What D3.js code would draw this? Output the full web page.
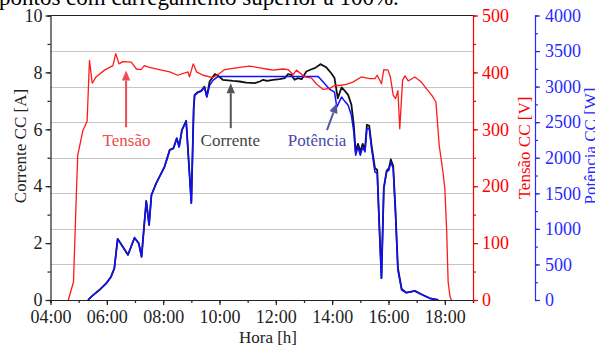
<!DOCTYPE html>
<html>
<head>
<meta charset="utf-8">
<script src="https://cdn.jsdelivr.net/npm/d3@7/dist/d3.min.js"></script>
<style>
  html, body { margin: 0; padding: 0; background: #fff; overflow: hidden; }
  svg { display: block; font-family: "Times New Roman", Times, "Liberation Serif", "Nimbus Roman", serif; }
  svg text { font-family: "Times New Roman", Times, "Liberation Serif", "Nimbus Roman", serif; }
</style>
</head>
<body>
<svg id="chart" width="595" height="348"></svg>
<script>
// ---- data -------------------------------------------------------------
const hourTicks = ["04:00", "06:00", "08:00", "10:00", "12:00", "14:00", "16:00", "18:00"];
const currentTicks = [0, 2, 4, 6, 8, 10];
const voltageTicks = [0, 100, 200, 300, 400, 500];
const powerTicks = [0, 500, 1000, 1500, 2000, 2500, 3000, 3500, 4000];

// Tensão CC [V]
const voltage = [
  ["04:38", 0], ["04:49", 32], ["04:55", 184], ["04:58", 254], ["05:09", 298], ["05:18", 314],
  ["05:23", 421], ["05:29", 381], ["05:37", 392], ["05:55", 404], ["06:13", 412], ["06:19", 433],
  ["06:26", 415], ["06:34", 419], ["06:52", 418], ["07:03", 406], ["07:13", 405], ["07:20", 412],
  ["07:31", 409], ["07:52", 405], ["08:14", 401], ["08:31", 395], ["08:53", 401], ["08:56", 392],
  ["09:04", 415], ["09:11", 401], ["09:25", 395], ["09:46", 391], ["10:00", 398], ["10:11", 405],
  ["10:43", 409], ["11:04", 411], ["11:26", 408], ["11:40", 406], ["11:54", 404], ["12:15", 406],
  ["12:26", 405], ["12:37", 396], ["12:44", 404], ["13:02", 392], ["13:16", 390], ["13:26", 380],
  ["13:41", 370], ["13:55", 372], ["14:05", 377], ["14:16", 377], ["14:30", 379], ["14:44", 383],
  ["15:02", 392], ["15:20", 389], ["15:31", 389], ["15:36", 395], ["15:45", 380], ["15:50", 405],
  ["15:59", 404], ["16:04", 392], ["16:10", 360], ["16:15", 354], ["16:20", 368], ["16:24", 301],
  ["16:30", 386], ["16:35", 394], ["16:42", 385], ["16:56", 392], ["17:10", 383], ["17:21", 371],
  ["17:32", 360], ["17:41", 348], ["17:48", 272], ["17:56", 225], ["18:00", 196], ["18:04", 120],
  ["18:07", 32], ["18:11", 6], ["18:14", 0]
];

// Corrente CC [A]
const current = [
  ["05:20", 0], ["05:27", 0.12], ["05:44", 0.35], ["05:59", 0.59], ["06:09", 0.82], ["06:16", 1.11],
  ["06:23", 2.15], ["06:34", 1.87], ["06:45", 1.58], ["06:59", 2.19], ["07:08", 1.99], ["07:14", 1.52],
  ["07:19", 2.52], ["07:24", 3.48], ["07:30", 2.64], ["07:35", 3.69], ["07:45", 4.10], ["08:03", 4.69],
  ["08:14", 5.28], ["08:22", 5.34], ["08:29", 5.69], ["08:34", 5.39], ["08:40", 5.98], ["08:49", 6.30],
  ["09:00", 3.41], ["09:05", 6.74], ["09:07", 7.21], ["09:14", 7.31], ["09:21", 7.35], ["09:28", 7.50],
  ["09:33", 7.15], ["09:39", 7.68], ["09:50", 7.94], ["09:57", 7.88], ["10:07", 7.74], ["10:29", 7.70],
  ["10:43", 7.68], ["10:57", 7.64], ["11:15", 7.62], ["11:26", 7.68], ["11:33", 7.74], ["11:41", 7.70],
  ["11:54", 7.74], ["12:08", 7.76], ["12:19", 7.80], ["12:26", 7.94], ["12:33", 7.91], ["12:40", 7.74],
  ["12:47", 7.80], ["12:55", 7.76], ["13:05", 8.03], ["13:16", 8.11], ["13:23", 8.15], ["13:35", 8.29],
  ["13:48", 8.17], ["13:58", 7.97], ["14:05", 7.80], ["14:12", 7.09], ["14:20", 7.47], ["14:27", 7.35],
  ["14:34", 7.21], ["14:41", 6.86], ["14:46", 6.16], ["14:50", 5.21], ["14:55", 5.49], ["15:00", 5.21],
  ["15:05", 5.49], ["15:10", 5.31], ["15:14", 6.16], ["15:19", 6.12], ["15:24", 5.42], ["15:31", 4.64],
  ["15:36", 4.57], ["15:40", 2.81], ["15:45", 0.77], ["15:50", 3.94], ["15:56", 4.54], ["16:01", 4.64],
  ["16:05", 4.94], ["16:10", 4.71], ["16:15", 3.10], ["16:20", 1.13], ["16:28", 0.39], ["16:38", 0.26],
  ["16:56", 0.32], ["17:10", 0.20], ["17:28", 0.06], ["17:46", 0]
];

// Potência CC [W]
const power = [
  ["05:20", 0], ["05:27", 46], ["05:44", 140], ["05:59", 234], ["06:09", 327], ["06:16", 445],
  ["06:23", 856], ["06:34", 748], ["06:45", 641], ["06:59", 874], ["07:08", 796], ["07:14", 608],
  ["07:19", 1006], ["07:24", 1390], ["07:30", 1053], ["07:35", 1474], ["07:45", 1638], ["08:03", 1871],
  ["08:14", 2105], ["08:22", 2129], ["08:29", 2269], ["08:34", 2152], ["08:40", 2386], ["08:49", 2512],
  ["09:00", 1361], ["09:05", 2690], ["09:07", 2877], ["09:14", 2915], ["09:21", 2933], ["09:28", 2994],
  ["09:33", 2853], ["09:39", 3018], ["09:46", 3088], ["09:57", 3144], ["13:30", 3144], ["13:41", 3064],
  ["13:55", 2961], ["14:05", 2923], ["14:10", 2713], ["14:20", 2853], ["14:27", 2793], ["14:34", 2737],
  ["14:41", 2597], ["14:46", 2362], ["14:50", 2035], ["14:55", 2152], ["15:00", 2035], ["15:05", 2152],
  ["15:10", 2081], ["15:14", 2410], ["15:19", 2410], ["15:24", 2129], ["15:31", 1801], ["15:36", 1778],
  ["15:40", 1099], ["15:45", 305], ["15:50", 1568], ["15:56", 1801], ["16:01", 1825], ["16:05", 1941],
  ["16:10", 1848], ["16:15", 1193], ["16:20", 421], ["16:28", 140], ["16:38", 102], ["16:56", 126],
  ["17:10", 80], ["17:28", 24], ["17:46", 0]
];

// Callouts: label, text anchor [time, A], arrow tail and tip [time, A]
const callouts = [
  { label: "Tensão",   at: ["06:42", 5.42], tail: ["06:41", 6.07], tip: ["06:41", 8.07], kind: "v" },
  { label: "Corrente", at: ["10:23", 5.42], tail: ["10:24", 6.04], tip: ["10:24", 7.62], kind: "i" },
  { label: "Potência", at: ["13:28", 5.42], tail: ["13:49", 5.97], tip: ["14:10", 6.92], kind: "p" }
];

// ---- layout -----------------------------------------------------------
const svg = d3.select("#chart");
const L = 50.5, R = 473, T = 15.5, B = 300;
const parse = d3.timeParse("%H:%M");

const COL = {
  v: "#ff1a1a", i: "#111111", p: "#1010ff",
  vAxis: "#ff0000", pAxis: "#2a2aff",
  vNote: "#f04a4a", iNote: "#444444", pNote: "#4a4aa8",
  vArrow: "#f04a55", iArrow: "#555555", pArrow: "#5656a0",
  grid: "#c4c4c4"
};

const x = d3.scaleTime().domain([parse("04:00"), parse("19:00")]).range([L, R]);
const yA = d3.scaleLinear().domain([0, 10]).range([B, T]);
const yV = d3.scaleLinear().domain([0, 500]).range([B, T]);
const yW = d3.scaleLinear().domain([0, 4000]).range([B, T]);

// document text running above the figure
svg.append("text")
  .attr("x", -1).attr("y", 5)
  .attr("font-size", 23).attr("fill", "#000")
  .text("pontos com carregamento superior a 100%.");

// horizontal grid, on the power scale
svg.append("g").selectAll("line")
  .data(powerTicks.filter(d => d > 0 && d < 4000))
  .join("line")
  .attr("x1", L).attr("x2", R)
  .attr("y1", d => Math.round(yW(d)) + 0.5).attr("y2", d => Math.round(yW(d)) + 0.5)
  .attr("stroke", COL.grid).attr("stroke-width", 1.2);

// top frame
svg.append("line").attr("x1", L).attr("x2", R).attr("y1", T).attr("y2", T)
  .attr("stroke", "#222").attr("stroke-width", 1.2);

// ---- series -----------------------------------------------------------
const lineOf = (scale) => d3.line().x(d => x(parse(d[0]))).y(d => scale(d[1]));

svg.append("path").datum(current)
  .attr("d", lineOf(yA)).attr("fill", "none")
  .attr("stroke", COL.i).attr("stroke-width", 1.8).attr("stroke-linejoin", "round");

svg.append("path").datum(power)
  .attr("d", lineOf(yW)).attr("fill", "none")
  .attr("stroke", COL.p).attr("stroke-width", 1.5).attr("stroke-linejoin", "round");

svg.append("path").datum(voltage)
  .attr("d", lineOf(yV)).attr("fill", "none")
  .attr("stroke", COL.v).attr("stroke-width", 1.3).attr("stroke-linejoin", "round");

// ---- axes -------------------------------------------------------------
const tickFont = 18;

function styleAxis(g, color) {
  g.select(".domain").attr("stroke", color).attr("stroke-width", 1.2);
  g.selectAll(".tick line").attr("stroke", color).attr("stroke-width", 1.2);
  g.selectAll(".tick text").attr("fill", color)
    .attr("font-size", tickFont).attr("font-family", null);
}

// bottom: hours
const hourMinor = d3.range(4, 20).map(h => parse(String(h).padStart(2, "0") + ":00"));
svg.append("g").attr("transform", `translate(0,${B})`)
  .call(d3.axisBottom(x).tickValues(hourMinor).tickSize(3).tickFormat(""))
  .call(g => styleAxis(g, "#222"));
svg.append("g").attr("transform", `translate(0,${B})`)
  .call(d3.axisBottom(x).tickValues(hourTicks.map(parse)).tickSize(5).tickPadding(5)
    .tickFormat(d3.timeFormat("%H:%M")))
  .call(g => styleAxis(g, "#222"))
  .call(g => g.select(".domain").remove());

// left: current
svg.append("g").attr("transform", `translate(${L},0)`)
  .call(d3.axisLeft(yA).tickValues(d3.range(0, 11, 1)).tickSize(3).tickFormat(""))
  .call(g => styleAxis(g, "#222"));
svg.append("g").attr("transform", `translate(${L},0)`)
  .call(d3.axisLeft(yA).tickValues(currentTicks).tickSize(5).tickPadding(3).tickFormat(d3.format("d")))
  .call(g => styleAxis(g, "#222"))
  .call(g => g.select(".domain").remove());

// right: voltage
svg.append("g").attr("transform", `translate(${R},0)`)
  .call(d3.axisRight(yV).tickValues(d3.range(0, 501, 50)).tickSize(3).tickFormat(""))
  .call(g => styleAxis(g, COL.vAxis));
svg.append("g").attr("transform", `translate(${R},0)`)
  .call(d3.axisRight(yV).tickValues(voltageTicks).tickSize(5).tickPadding(4).tickFormat(d3.format("d")))
  .call(g => styleAxis(g, COL.vAxis))
  .call(g => g.select(".domain").remove());

// far right: power
const PX = 535;
svg.append("g").attr("transform", `translate(${PX},0)`)
  .call(d3.axisRight(yW).tickValues(d3.range(0, 4001, 250)).tickSize(3).tickFormat(""))
  .call(g => styleAxis(g, COL.pAxis));
svg.append("g").attr("transform", `translate(${PX},0)`)
  .call(d3.axisRight(yW).tickValues(powerTicks).tickSize(5).tickPadding(5).tickFormat(d3.format("d")))
  .call(g => styleAxis(g, COL.pAxis))
  .call(g => g.select(".domain").remove());

// axis titles
const titleFont = 17;
svg.append("text").attr("x", 268).attr("y", 343)
  .attr("text-anchor", "middle").attr("font-size", titleFont).attr("fill", "#222")
  .text("Hora [h]");
svg.append("text").attr("transform", "translate(26,146) rotate(-90)")
  .attr("text-anchor", "middle").attr("font-size", titleFont).attr("fill", "#222")
  .text("Corrente CC [A]");
svg.append("text").attr("transform", "translate(530,148) rotate(-90)")
  .attr("text-anchor", "middle").attr("font-size", titleFont).attr("fill", COL.vAxis)
  .text("Tensão CC [V]");
svg.append("text").attr("transform", "translate(596,146) rotate(-90)")
  .attr("text-anchor", "middle").attr("font-size", titleFont).attr("fill", COL.pAxis)
  .text("Potência CC [W]");

// ---- callouts ---------------------------------------------------------
const noteColor = { v: COL.vNote, i: COL.iNote, p: COL.pNote };
const arrowColor = { v: COL.vArrow, i: COL.iArrow, p: COL.pArrow };
const pt = (d) => [x(parse(d[0])), yA(d[1])];

callouts.forEach(c => {
  const [tx, ty] = pt(c.at);
  svg.append("text").attr("x", tx).attr("y", ty)
    .attr("text-anchor", "middle").attr("font-size", 17)
    .attr("fill", noteColor[c.kind]).text(c.label);

  const [x0, y0] = pt(c.tail), [x1, y1] = pt(c.tip);
  const dx = x1 - x0, dy = y1 - y0, len = Math.hypot(dx, dy);
  const ux = dx / len, uy = dy / len;
  const headL = 10, headW = 4.2;
  const bx = x1 - ux * headL, by = y1 - uy * headL;
  svg.append("line").attr("x1", x0).attr("y1", y0).attr("x2", bx).attr("y2", by)
    .attr("stroke", arrowColor[c.kind]).attr("stroke-width", 2);
  svg.append("path")
    .attr("d", `M${x1},${y1}L${bx - uy * headW},${by + ux * headW}L${bx + uy * headW},${by - ux * headW}Z`)
    .attr("fill", arrowColor[c.kind]);
});
</script>
</body>
</html>
